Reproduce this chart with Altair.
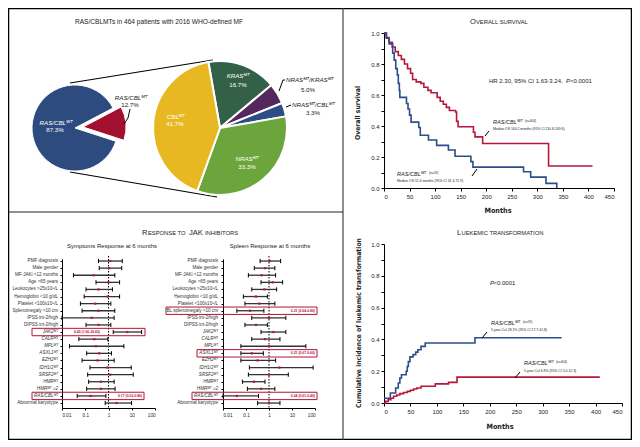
import math
import altair as alt
import pandas as pd

W, H = 624, 432
SANS = "Liberation Sans, Arial, Helvetica, sans-serif"
NARROW = "Liberation Sans Narrow, Arial Narrow, DejaVu Sans Condensed, sans-serif"
RED = "#b8173c"
BLUE = "#2c4d8a"
BOXRED = "#b3123a"
WT = "\u1d42\u1d40"
MT = "\u1d39\u1d40"

# ---------------- pie data ----------------
small_names = ["RAS/CBL" + WT, "RAS/CBL" + MT]
small_pct = [87.3, 12.7]
small_colors = ["#2d4b7e", "#a3102f"]

big_names = ["KRAS" + MT, "NRAS" + MT + "/KRAS" + MT, "NRAS" + MT + "/CBL" + MT, "NRAS" + MT, "CBL" + MT]
big_pct = [16.7, 5.0, 3.3, 33.3, 41.7]
big_colors = ["#336147", "#55275f", "#2d4d86", "#6ca53b", "#e8b822"]

# ---------------- overall survival ----------------
os_wt_t = [0, 4, 10, 16, 22, 28, 34, 40, 46, 52, 56, 63, 72, 78, 86, 92, 104, 110, 116, 122, 128, 140, 142, 145, 175, 178, 193, 322, 408]
os_wt_s = [1.0, 0.97, 0.94, 0.91, 0.88, 0.855, 0.83, 0.80, 0.77, 0.74, 0.70, 0.685, 0.675, 0.65, 0.63, 0.615, 0.585, 0.56, 0.54, 0.52, 0.50, 0.49, 0.43, 0.395, 0.36, 0.33, 0.287, 0.142, 0.142]
os_mt_t = [0, 5, 10, 17, 20, 23, 26, 28, 30, 31, 44, 47, 50, 53, 68, 71, 87, 103, 126, 139, 170, 174, 273, 287, 317, 338]
os_mt_s = [1.0, 0.966, 0.93, 0.87, 0.825, 0.77, 0.73, 0.675, 0.63, 0.585, 0.545, 0.51, 0.47, 0.425, 0.39, 0.34, 0.31, 0.275, 0.245, 0.205, 0.17, 0.135, 0.105, 0.07, 0.03, 0.0]

# ---------------- leukemic transformation ----------------
lt_mt_t = [0, 12, 22, 27, 30, 33, 42, 44, 46, 49, 55, 60, 64, 70, 78, 172, 336]
lt_mt_s = [0.03, 0.063, 0.094, 0.126, 0.157, 0.178, 0.20, 0.23, 0.26, 0.29, 0.304, 0.32, 0.335, 0.356, 0.377, 0.41, 0.41]
lt_wt_t = [0, 3, 8, 13, 18, 24, 30, 37, 44, 50, 56, 62, 70, 97, 122, 138, 408]
lt_wt_s = [0.0, 0.01, 0.02, 0.03, 0.042, 0.05, 0.059, 0.066, 0.073, 0.08, 0.088, 0.094, 0.105, 0.12, 0.13, 0.163, 0.163]

# ---------------- forest plots ----------------
labels_sym = ["PMF diagnosis", "Male gender", "MF-JAKi >12 months", "Age >65 years",
              "Leukocytes >25x10\u2079/L", "Hemoglobin <10 g/dL", "Platelet <100x10\u2079/L",
              "Splenomegaly >10 cm", "IPSS int-2/high", "DIPSS int-2/high",
              "JAK2" + MT, "CALR" + MT, "MPL" + MT, "ASXL1" + MT, "EZH2" + MT, "IDH1/2" + MT,
              "SRSF2" + MT, "HMR" + MT, "HMR" + MT + " \u22652", "RAS/CBL" + MT, "Abnormal karyotype"]
labels_spl = list(labels_sym)
labels_spl[7] = "BL splenomegaly >10 cm"
italic_rows = list(range(10, 20))

sym_est = [1.18, 1.07, 0.23, 1.0, 0.37, 0.9, 0.27, 0.37, 0.19, 0.37, 6.45, 0.245, 0.29, 0.40, 0.34, 0.9, 1.18, 0.47, 0.47, 0.17, 2.2]
sym_lo = [0.37, 0.40, 0.031, 0.29, 0.108, 0.09, 0.062, 0.073, 0.01, 0.108, 1.60, 0.053, 0.021, 0.115, 0.073, 0.16, 0.127, 0.14, 0.115, 0.045, 0.72]
sym_hi = [3.9, 3.7, 1.87, 3.0, 1.48, 3.0, 1.26, 1.87, 1.75, 1.26, 26.6, 0.94, 4.6, 1.34, 1.75, 9.5, 11.6, 1.75, 1.92, 0.77, 9.8]

spl_est = [1.1, 0.67, 0.48, 1.44, 0.63, 0.27, 0.38, 0.15, 1.0, 0.27, 1.54, 0.67, 1.0, 0.18, 0.32, 2.8, 1.0, 0.22, 0.45, 0.04, 1.0]
spl_lo = [0.41, 0.23, 0.127, 0.45, 0.178, 0.077, 0.09, 0.04, 0.178, 0.09, 0.45, 0.178, 0.06, 0.06, 0.06, 0.14, 0.127, 0.07, 0.115, 0.01, 0.32]
spl_hi = [3.2, 1.8, 1.94, 3.9, 2.15, 0.85, 1.8, 0.6, 5.4, 0.85, 5.4, 3.0, 40, 0.57, 1.94, 83, 6.9, 0.67, 1.8, 0.35, 3.0]

sym_boxes = [10, 19]
sym_box_text = ["6.45 (1.60-26.60)", "0.17 (0.03-0.86)"]
spl_boxes = [7, 13, 19]
spl_box_text = ["0.21 (0.04-0.80)", "0.21 (0.07-0.60)", "0.04 (0.01-0.40)"]

# =====================================================
layers = []
ONE = pd.DataFrame({"a": [0]})


def add(c):
    layers.append(c)


def text(t, x, y, size=6.0, color="#222", align="center", baseline="middle",
         italic=False, bold=False, angle=None, font=SANS):
    kw = dict(fontSize=size, color=color, align=align, baseline=baseline, font=font)
    if italic:
        kw["fontStyle"] = "italic"
    if bold:
        kw["fontWeight"] = "bold"
    if angle is not None:
        kw["angle"] = angle
    add(alt.Chart(pd.DataFrame({"t": [t]})).mark_text(**kw).encode(
        text="t:N", x=alt.value(x), y=alt.value(y)))


def seg(x1, y1, x2, y2, color="black", w=1.0, dash=None):
    kw = dict(color=color, strokeWidth=w)
    if dash:
        kw["strokeDash"] = dash
    add(alt.Chart(ONE).mark_rule(**kw).encode(
        x=alt.value(x1), y=alt.value(y1), x2=alt.value(x2), y2=alt.value(y2)))


def axis(orient, offset, values, size=6.0, labels=True, labelExpr=None, tick=3):
    kw = dict(orient=orient, offset=offset, values=values, title=None, grid=False,
              labelFontSize=size, labelFont=SANS, labelColor="#222", tickColor="black",
              domainColor="black", tickSize=tick, labelPadding=2, labelOverlap=False,
              domainWidth=1, tickWidth=1, labels=labels)
    if labelExpr:
        kw["labelExpr"] = labelExpr
    return alt.Axis(**kw)


# ---------------- frame dividers ----------------
seg(335, 0, 335, 432, "#444", 1.2)
seg(0, 204, 335, 204, "#222", 1.2)

# ---------------- pies ----------------
def pie(names, pct, colors, cx, cy, r, start_deg, visible, sw):
    df = pd.DataFrame({"name": names, "pct": pct, "col": colors,
                       "ord": list(range(len(names))), "vis": visible})
    s = math.radians(start_deg)
    add(alt.Chart(df).mark_arc(radius=r, stroke="white", strokeWidth=sw).encode(
        theta=alt.Theta("pct:Q", stack=True,
                        scale=alt.Scale(domain=[0, 100], range=[s, s + 2 * math.pi])),
        order=alt.Order("ord:Q"),
        color=alt.Color("col:N", scale=None, legend=None),
        opacity=alt.Opacity("vis:Q", scale=None, legend=None),
        x=alt.value(cx), y=alt.value(cy)))


text("RAS/CBLMTs in 464 patients with 2016 WHO-defined MF", 151, 14, size=6.6)
seg(62, 75, 205, 52, "black", 1.2)
seg(62, 164, 209, 189, "black", 1.2)
pie(small_names, small_pct, small_colors, 67, 120, 43, 108, [1, 0], 1)
pie(small_names, small_pct, small_colors, 75, 119, 43, 108, [0, 1], 1)
pie(big_names, big_pct, big_colors, 212, 120, 67, -10, [1, 1, 1, 1, 1], 2)

text(small_names[0], 48, 115, size=6.2, color="white", italic=True)
text(f"{small_pct[0]}%", 47, 122, size=6.2, color="white")
text(small_names[1], 123, 90, size=6.2, color="#222", italic=True)
text(f"{small_pct[1]}%", 122, 97, size=6.2, color="#222")
seg(122, 101, 120, 110, "black", 1)
seg(120, 110, 116, 116, "black", 1)

text(big_names[0], 230, 68, size=6.2, color="white", italic=True)
text(f"{big_pct[0]}%", 230, 77, size=6.2, color="white")
text(big_names[4], 168, 109, size=6.2, color="white")
text(f"{big_pct[4]}%", 167, 116, size=6.2, color="white")
text(big_names[3], 239, 151, size=6.2, color="white", italic=True)
text(f"{big_pct[3]}%", 239, 159, size=6.2, color="white")
text(big_names[1], 278, 72, size=6.2, color="#222", italic=True, align="left")
text(f"{big_pct[1]}%", 300, 82, size=6.2, color="#222")
text(big_names[2], 284, 97, size=6.2, color="#222", italic=True, align="left")
text(f"{big_pct[2]}%", 305, 105, size=6.2, color="#222")
seg(271, 83, 275, 72, "black", 1)
seg(275, 72, 277, 72, "black", 1)
seg(278, 99, 283, 97, "black", 1)

# ---------------- small caps titles ----------------
def caps(parts, y, big=7.6, small=5.8):
    for t, x, is_big in parts:
        text(t, x, y, size=big if is_big else small, align="left", baseline="alphabetic")


caps([("O", 462, True), ("VERALL SURVIVAL", 468, False)], 16)
caps([("L", 449, True), ("UEKEMIC TRANSFORMATION", 453.5, False)], 227)
caps([("R", 134, True), ("ESPONSE TO", 140, False), ("JAK", 181, True), ("INHIBITORS", 197, False)], 227)

# ---------------- overall survival ----------------
km_x = alt.Scale(domain=[0, 450], range=[376, 606], nice=False, zero=False)
km_y = alt.Scale(domain=[0, 1], range=[180, 25], nice=False, zero=False)
ylab_expr = "round(datum.value*10)%2==0 ? format(datum.value,'.1f') : ''"
yvals = [i / 10 for i in range(11)]


def curve(t, s, color, xs, ys, xax=None, yax=None):
    df = pd.DataFrame({"t": t, "s": s})
    add(alt.Chart(df).mark_line(interpolate="step-after", color=color, strokeWidth=1.6).encode(
        x=alt.X("t:Q", scale=xs, axis=xax), y=alt.Y("s:Q", scale=ys, axis=yax)))


curve(os_wt_t, os_wt_s, RED, km_x, km_y,
      axis("bottom", 180 - H, list(range(0, 451, 50))),
      axis("left", -376, yvals, labelExpr=ylab_expr))
curve(os_mt_t, os_mt_s, BLUE, km_x, km_y)
text("Overall survival", 350, 105, size=6.8, angle=270, font=NARROW, bold=True)
text("Months", 490, 203, size=7.2, font=NARROW, bold=True)
text("HR 2.30, 95% CI 1.63-3.24,", 481, 73, size=6.0, align="left")
text("P", 558, 73, size=6.0, align="left", italic=True)
text("<0.0001", 562, 73, size=6.0, align="left")
text("RAS/CBL" + WT, 485, 114, size=5.6, italic=True, align="left")
text("(n=404)", 517, 113, size=3.2, align="left")
text("Median OS 140.2 months (95% CI 110.8-149.6)", 485, 120.5, size=3.4, align="left")
seg(477, 128, 481, 123, "black", 1)
text("RAS/CBL" + MT, 389, 166, size=5.6, italic=True, align="left")
text("(n=59)", 421, 165, size=3.2, align="left")
text("Median OS 51.4 months (95% CI 31.4-72.9)", 389, 172.5, size=3.4, align="left")
seg(464, 168, 469, 161, "black", 1)

# ---------------- leukemic transformation ----------------
lt_x = alt.Scale(domain=[0, 450], range=[376, 614], nice=False, zero=False)
lt_y = alt.Scale(domain=[0, 1], range=[395, 236], nice=False, zero=False)
curve(lt_mt_t, lt_mt_s, BLUE, lt_x, lt_y,
      axis("bottom", 395 - H, list(range(0, 451, 50))),
      axis("left", -376, yvals, labelExpr=ylab_expr))
curve(lt_wt_t, lt_wt_s, RED, lt_x, lt_y)
text("Cumulative incidence of luekemic transformation", 351, 315, size=6.8, angle=270,
     font=NARROW, bold=True)
text("Months", 492, 419, size=7.2, font=NARROW, bold=True)
text("P", 482, 275, size=6.0, align="left", italic=True)
text("<0.0001", 485.5, 275, size=6.0, align="left")
text("RAS/CBL" + MT, 483, 315, size=5.6, italic=True, align="left")
text("(n=59)", 515, 314, size=3.2, align="left")
text("5-year CuI 28.1% (95% CI 17.7-41.8)", 483, 321.5, size=3.4, align="left")
seg(474, 330, 479, 324, "black", 1)
text("RAS/CBL" + WT, 516, 355, size=5.6, italic=True, align="left")
text("(n=404)", 548, 354, size=3.2, align="left")
text("5-year CuI 6.8% (95% CI 5.0-12.3)", 516, 362.5, size=3.4, align="left")
seg(507, 370, 512, 364, "black", 1)

# ---------------- forest plots ----------------
FY = alt.Scale(domain=[-0.3, 20.7], range=[250.9, 400], nice=False, zero=False)


def forest(title, title_x, labels, est, lo, hi, xr, label_x, boxes, box_texts, box_x, text_x, text_align):
    fx = alt.Scale(type="log", domain=[0.01, 100], range=xr, nice=False)
    idx = list(range(len(labels)))
    df = pd.DataFrame({"idx": idx, "est": est, "lo": lo, "hi": hi, "lab": labels})
    df["y0"] = df["idx"] - 0.3
    df["y1"] = df["idx"] + 0.3
    text(title, title_x, 238, size=6.0)
    # dotted reference line
    add(alt.Chart(pd.DataFrame({"one": [1.0]})).mark_rule(color="black", strokeWidth=1, strokeDash=[1.5, 1.5]).encode(
        x=alt.X("one:Q", scale=fx, axis=None), y=alt.value(248), y2=alt.value(400)))
    # CI bars with axes
    add(alt.Chart(df).mark_rule(color="#333", strokeWidth=1.3).encode(
        x=alt.X("lo:Q", scale=fx, axis=axis("bottom", 400 - H, [0.01, 0.1, 1, 10, 100], size=4.6,
                                           labelExpr="'' + datum.value", tick=2)),
        x2="hi:Q",
        y=alt.Y("idx:Q", scale=FY, axis=axis("left", -xr[0], idx, labels=False, tick=2))))
    caps_df = pd.DataFrame({"v": list(lo) + list(hi), "y0": list(df["y0"]) * 2, "y1": list(df["y1"]) * 2})
    add(alt.Chart(caps_df).mark_rule(color="black", strokeWidth=1).encode(
        x=alt.X("v:Q", scale=fx, axis=None), y=alt.Y("y0:Q", scale=FY, axis=None), y2="y1:Q"))
    add(alt.Chart(df).mark_square(color=RED, size=5, opacity=1).encode(
        x=alt.X("est:Q", scale=fx, axis=None), y=alt.Y("idx:Q", scale=FY, axis=None)))
    # row labels
    norm = df[~df["idx"].isin(italic_rows)]
    ital = df[df["idx"].isin(italic_rows)]
    add(alt.Chart(norm).mark_text(fontSize=4.6, align="right", baseline="middle", color="#333", font=SANS).encode(
        text="lab:N", x=alt.value(label_x), y=alt.Y("idx:Q", scale=FY, axis=None)))
    add(alt.Chart(ital).mark_text(fontSize=4.6, align="right", baseline="middle", color="#333", font=SANS,
                                  fontStyle="italic").encode(
        text="lab:N", x=alt.value(label_x), y=alt.Y("idx:Q", scale=FY, axis=None)))
    # highlight boxes
    for (b, t, bx, tx, ta) in zip(boxes, box_texts, box_x, text_x, text_align):
        bdf = pd.DataFrame({"y0": [b - 0.52], "y1": [b + 0.52], "idx": [b], "t": [t]})
        add(alt.Chart(bdf).mark_rect(fillOpacity=0, stroke=BOXRED, strokeWidth=1).encode(
            x=alt.value(bx[0]), x2=alt.value(bx[1]),
            y=alt.Y("y0:Q", scale=FY, axis=None), y2="y1:Q"))
        add(alt.Chart(bdf).mark_text(fontSize=3.4, color=BOXRED, fontWeight="bold", align=ta,
                                     baseline="middle", font=SANS).encode(
            text="t:N", x=alt.value(tx), y=alt.Y("idx:Q", scale=FY, axis=None)))


forest("Symptoms Response at 6 months", 104, labels_sym, sym_est, sym_lo, sym_hi, [54, 147], 50,
       sym_boxes, sym_box_text, [(24, 137), (24, 136)], [92, 110], ["right", "left"])
forest("Spleen Response at 6 months", 262, labels_spl, spl_est, spl_lo, spl_hi, [215, 307], 210,
       spl_boxes, spl_box_text, [(158, 309), (189, 309), (184, 309)], [307, 307, 307],
       ["right", "right", "right"])

chart = alt.layer(*layers).resolve_scale(
    x="independent", y="independent", theta="independent", color="independent", opacity="independent"
).properties(
    width=W, height=H, autosize=alt.AutoSizeParams(type="none"), padding=0
).configure_view(stroke="black", strokeWidth=2.5)

chart.save("out.html", embed_options={"renderer": "svg", "actions": False})
